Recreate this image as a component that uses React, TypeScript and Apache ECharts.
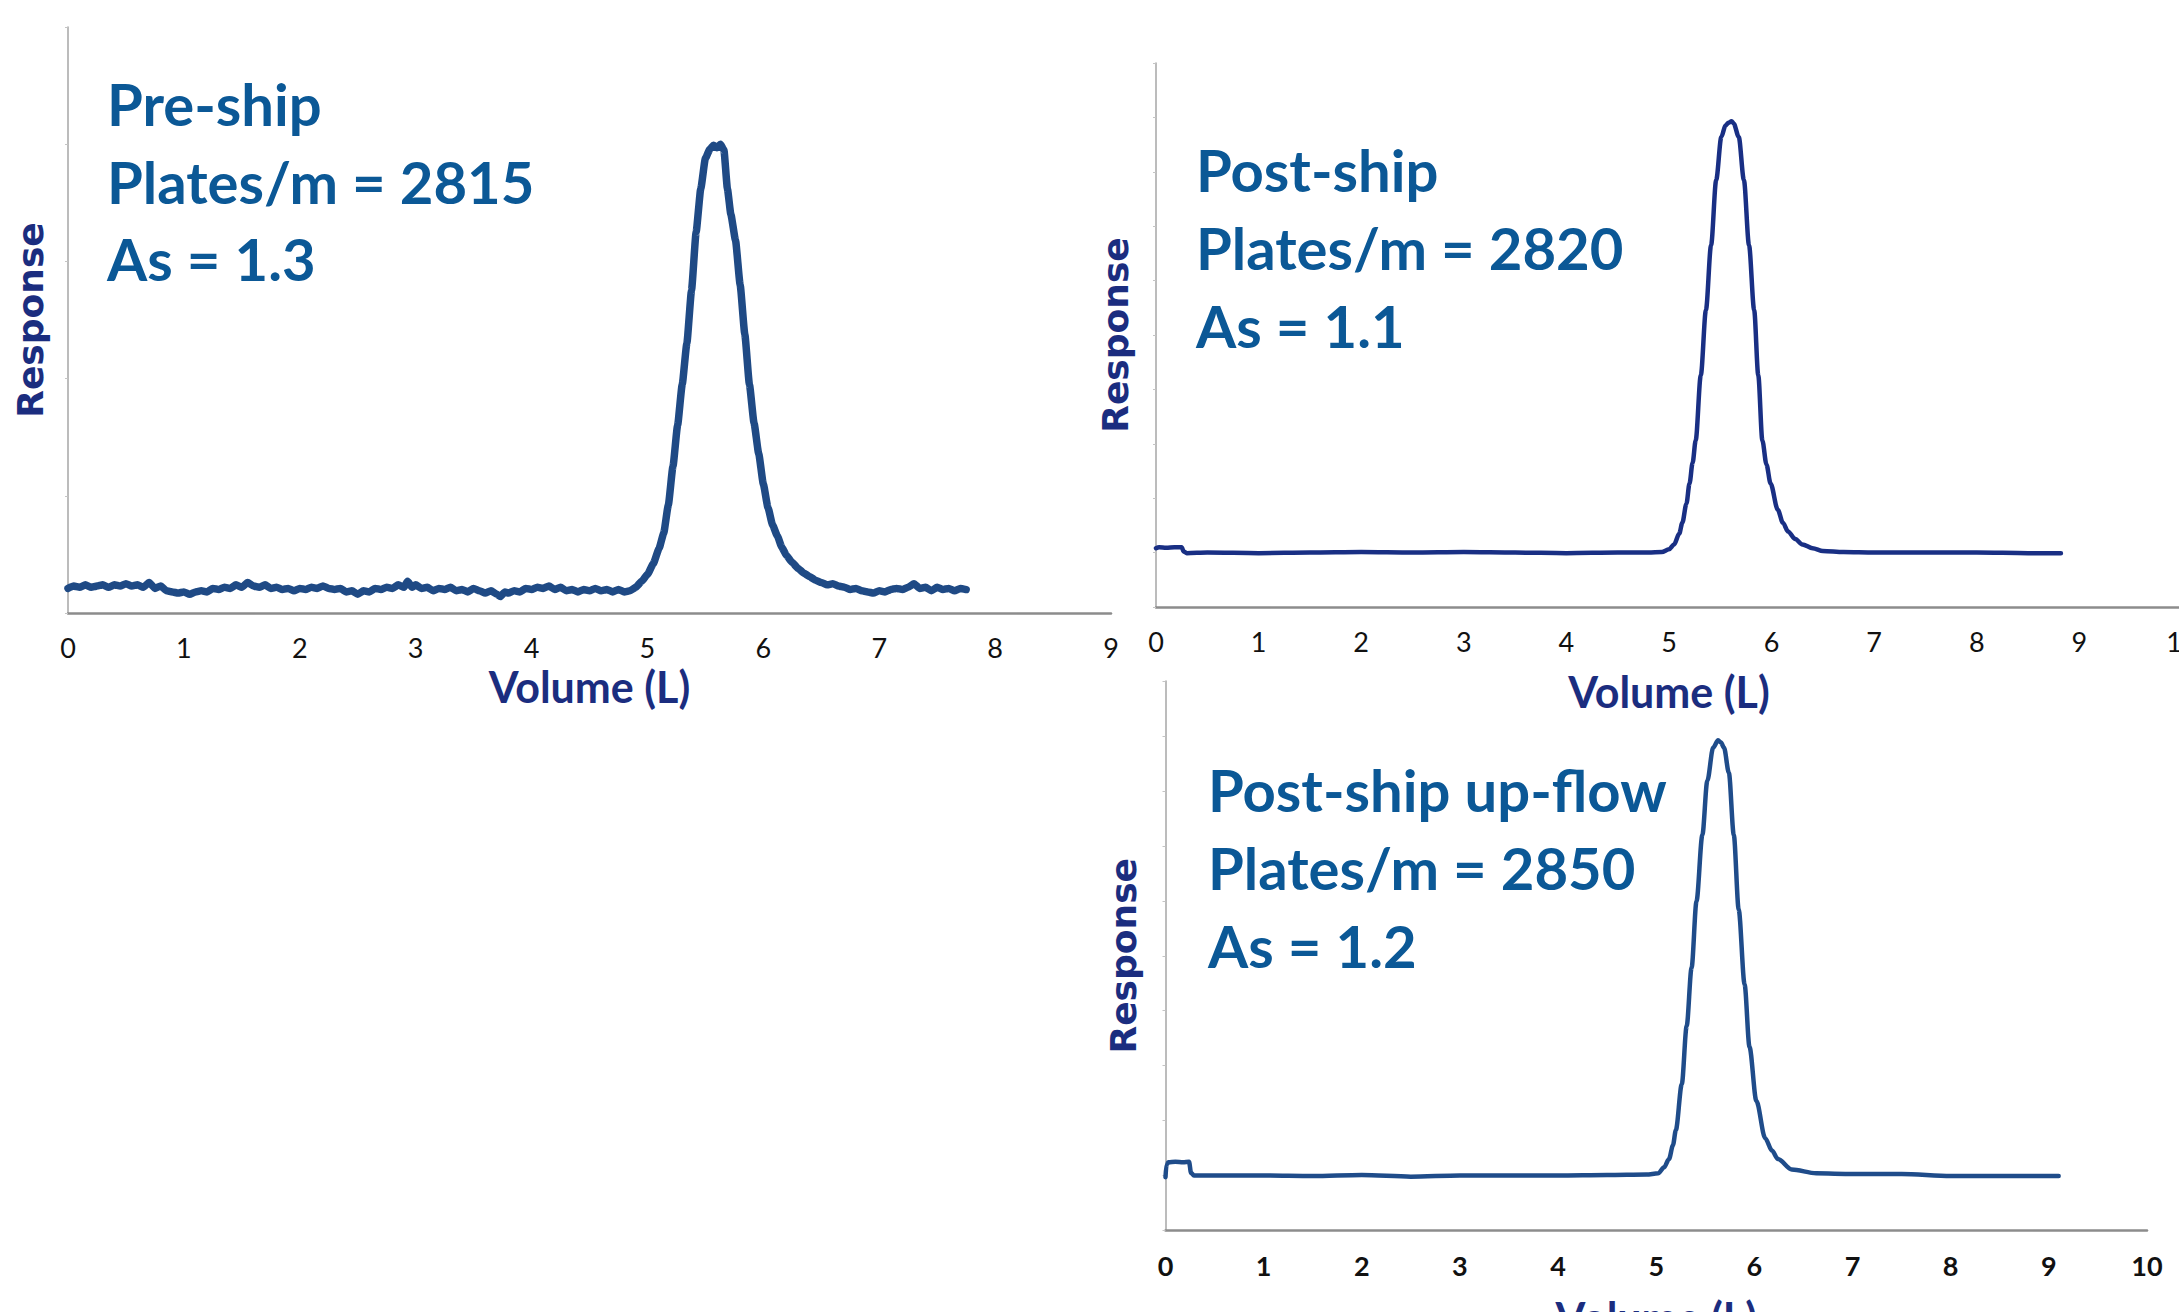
import React, { useEffect, useRef } from "react";
import * as echarts from "echarts";

// ---------- Data (Volume in L, Response in arbitrary units) ----------
const preShipCurve: number[][] = [
  [0.0, 0.21], [0.05, 0.23], [0.1, 0.22], [0.15, 0.24], [0.2, 0.22], [0.25, 0.23], [0.3, 0.24], [0.35, 0.22],
  [0.4, 0.24], [0.45, 0.23], [0.5, 0.25], [0.55, 0.23], [0.6, 0.24], [0.65, 0.22], [0.7, 0.26], [0.75, 0.21],
  [0.8, 0.23], [0.85, 0.19], [0.9, 0.18], [0.95, 0.17], [1.0, 0.18], [1.05, 0.16], [1.1, 0.18], [1.15, 0.19],
  [1.2, 0.18], [1.25, 0.21], [1.3, 0.2], [1.35, 0.22], [1.4, 0.21], [1.45, 0.24], [1.5, 0.22], [1.55, 0.26],
  [1.6, 0.23], [1.65, 0.22], [1.7, 0.24], [1.75, 0.21], [1.8, 0.22], [1.85, 0.2], [1.9, 0.21], [1.95, 0.19],
  [2.0, 0.21], [2.05, 0.2], [2.1, 0.22], [2.15, 0.21], [2.2, 0.23], [2.25, 0.21], [2.3, 0.2], [2.35, 0.21],
  [2.4, 0.18], [2.45, 0.19], [2.5, 0.16], [2.55, 0.19], [2.6, 0.18], [2.65, 0.21], [2.7, 0.2], [2.75, 0.22],
  [2.8, 0.21], [2.85, 0.24], [2.9, 0.22], [2.93, 0.27], [2.97, 0.22], [3.0, 0.24], [3.05, 0.21], [3.1, 0.22],
  [3.15, 0.19], [3.2, 0.21], [3.25, 0.2], [3.3, 0.22], [3.35, 0.19], [3.4, 0.2], [3.45, 0.18], [3.5, 0.21],
  [3.55, 0.19], [3.6, 0.17], [3.65, 0.19], [3.7, 0.16], [3.73, 0.14], [3.77, 0.18], [3.8, 0.17], [3.85, 0.19],
  [3.9, 0.18], [3.95, 0.21], [4.0, 0.2], [4.05, 0.22], [4.1, 0.21], [4.15, 0.23], [4.2, 0.2], [4.25, 0.22],
  [4.3, 0.19], [4.35, 0.2], [4.4, 0.18], [4.45, 0.2], [4.5, 0.19], [4.55, 0.21], [4.6, 0.19], [4.65, 0.2],
  [4.7, 0.18], [4.75, 0.2], [4.8, 0.18], [4.85, 0.19], [4.9, 0.22], [4.95, 0.27], [5.0, 0.33], [5.05, 0.42],
  [5.1, 0.55], [5.14, 0.68], [5.18, 0.92], [5.22, 1.25], [5.26, 1.6], [5.3, 1.95], [5.34, 2.3], [5.38, 2.75],
  [5.42, 3.25], [5.46, 3.62], [5.5, 3.88], [5.54, 3.96], [5.57, 3.99], [5.6, 3.97], [5.63, 4.0], [5.66, 3.95],
  [5.69, 3.62], [5.72, 3.4], [5.76, 3.18], [5.8, 2.8], [5.84, 2.38], [5.88, 1.95], [5.92, 1.62], [5.96, 1.36],
  [6.0, 1.1], [6.04, 0.9], [6.08, 0.75], [6.12, 0.66], [6.16, 0.56], [6.2, 0.49], [6.25, 0.43], [6.3, 0.38],
  [6.35, 0.34], [6.4, 0.31], [6.45, 0.28], [6.5, 0.26], [6.55, 0.24], [6.6, 0.25], [6.65, 0.23], [6.7, 0.22],
  [6.75, 0.2], [6.8, 0.21], [6.85, 0.19], [6.9, 0.18], [6.95, 0.17], [7.0, 0.19], [7.05, 0.18], [7.1, 0.2],
  [7.15, 0.21], [7.2, 0.2], [7.25, 0.22], [7.3, 0.25], [7.35, 0.21], [7.4, 0.22], [7.45, 0.19], [7.5, 0.22],
  [7.55, 0.2], [7.6, 0.21], [7.65, 0.19], [7.7, 0.21], [7.75, 0.2],
];

const postShipCurve: number[][] = [
  [0.0, 1.08], [0.03, 1.1], [0.1, 1.09], [0.18, 1.1], [0.25, 1.1], [0.27, 1.02], [0.3, 0.99],
  [0.5, 1.0], [1.0, 0.99], [1.5, 1.0], [2.0, 1.01], [2.5, 1.0], [3.0, 1.01], [3.5, 1.0], [4.0, 0.99],
  [4.5, 1.0], [4.8, 1.0], [4.93, 1.01], [5.0, 1.06], [5.05, 1.15], [5.1, 1.35], [5.13, 1.55], [5.17, 1.9],
  [5.2, 2.27], [5.23, 2.65], [5.26, 3.06], [5.31, 4.26], [5.36, 5.46], [5.41, 6.65], [5.46, 7.85], [5.51, 8.64],
  [5.55, 8.85], [5.58, 8.9], [5.61, 8.93], [5.63, 8.89], [5.68, 8.64], [5.73, 7.85], [5.78, 6.65], [5.83, 5.46],
  [5.87, 4.26], [5.91, 3.06], [5.95, 2.62], [5.99, 2.27], [6.06, 1.79], [6.11, 1.55], [6.16, 1.39], [6.23, 1.25],
  [6.3, 1.15], [6.4, 1.08], [6.5, 1.03], [6.7, 1.01], [7.0, 1.0], [7.5, 1.0], [8.0, 1.0], [8.5, 0.99], [8.82, 0.99],
];

const upFlowCurve: number[][] = [
  [0.0, 0.97], [0.01, 1.2], [0.03, 1.24], [0.1, 1.25], [0.18, 1.24], [0.24, 1.25], [0.26, 1.05], [0.29, 1.0],
  [0.5, 1.0], [1.0, 1.0], [1.5, 0.99], [2.0, 1.01], [2.5, 0.98], [3.0, 1.0], [3.5, 1.0], [4.0, 1.0],
  [4.5, 1.01], [4.9, 1.02], [5.02, 1.04], [5.08, 1.15], [5.13, 1.3], [5.17, 1.55], [5.2, 1.83], [5.26, 2.66],
  [5.31, 3.72], [5.36, 4.78], [5.41, 5.99], [5.47, 7.2], [5.52, 8.18], [5.58, 8.79], [5.63, 8.92], [5.66, 8.88],
  [5.69, 8.79], [5.74, 8.33], [5.79, 7.2], [5.84, 5.84], [5.9, 4.48], [5.95, 3.34], [6.02, 2.36], [6.11, 1.68],
  [6.18, 1.45], [6.24, 1.3], [6.38, 1.11], [6.63, 1.04], [7.0, 1.03], [7.5, 1.03], [8.0, 0.99], [8.5, 0.99], [9.1, 0.99],
];

const panelNames = ["Pre-ship", "Post-ship", "Post-ship up-flow"];
const platesPerMetre = [2815, 2820, 2850];
const asymmetry = ["1.3", "1.1", "1.2"];
const xAxisMax = [9, 10, 10];
const yAxisMax = [5, 10, 10];
const xAxisTitle = "Volume (L)";
const yAxisTitle = "Response";

// ---------- Layout / style (not data) ----------
const grids = [
  { left: 68, top: 27, width: 1043, height: 586 },
  { left: 1156, top: 63, width: 1026, height: 544 },
  { left: 1165.5, top: 681, width: 981.5, height: 549.5 },
];
const lineColors = ["#1f4a85", "#192f84", "#1f4c8a"];
const lineWidths = [7.5, 4.5, 4.5];
const textPos = [
  { x: 107, y: [103, 181, 258] },
  { x: 1196, y: [169, 247, 325] },
  { x: 1208, y: [789, 867, 945] },
];
const xNameGap = [52, 63, 65];
const yNameGap = [20, 23, 24];
const labelBold = [false, false, true];

const ANNOT_COLOR = "#0b5896";
const TITLE_COLOR = "#1b2d7f";

export default function App() {
  const ref = useRef<HTMLDivElement>(null);

  useEffect(() => {
    if (!ref.current) return;
    const chart = echarts.init(ref.current, undefined, { renderer: "svg" });
    const curves = [preShipCurve, postShipCurve, upFlowCurve];

    const graphic: any[] = [];
    textPos.forEach((p, i) => {
      const lines = [panelNames[i], `Plates/m = ${platesPerMetre[i]}`, `As = ${asymmetry[i]}`];
      lines.forEach((t, j) => {
        graphic.push({
          type: "text",
          x: p.x,
          y: p.y[j],
          style: {
            text: t,
            fill: ANNOT_COLOR,
            font: "bold 58px Lato, 'Noto Sans', sans-serif",
            textAlign: "left",
            textVerticalAlign: "middle",
            align: "left",
            verticalAlign: "middle",
          },
        });
      });
    });

    const option: any = {
      animation: false,
      backgroundColor: "#ffffff",
      grid: grids.map((g) => ({ ...g, containLabel: false, outerBoundsMode: "none" })),
      xAxis: grids.map((_, i) => ({
        gridIndex: i,
        type: "value",
        min: 0,
        max: xAxisMax[i],
        interval: 1,
        axisLine: { show: true, onZero: false, lineStyle: { color: "#8c8c8c", width: 2.5 } },
        axisTick: { show: false },
        splitLine: { show: false },
        axisLabel: {
          margin: 21,
          fontFamily: "Lato",
          fontSize: 27,
          fontWeight: labelBold[i] ? "bold" : "normal",
          color: "#111111",
        },
        name: xAxisTitle,
        nameLocation: "middle",
        nameGap: xNameGap[i],
        nameTextStyle: { fontFamily: "Lato", fontWeight: "bold", fontSize: 43, color: TITLE_COLOR },
      })),
      yAxis: grids.map((_, i) => ({
        gridIndex: i,
        type: "value",
        min: 0,
        max: yAxisMax[i],
        interval: 1,
        axisLine: { show: true, onZero: false, lineStyle: { color: "#a6a6a6", width: 1.5 } },
        axisTick: { show: true, length: 3, lineStyle: { color: "#c4c4c4", width: 1 } },
        axisLabel: { show: false },
        splitLine: { show: false },
        name: yAxisTitle,
        nameLocation: "middle",
        nameRotate: 90,
        nameGap: yNameGap[i],
        nameTextStyle: { fontFamily: "DejaVu Sans", fontWeight: "bold", fontSize: 36, color: TITLE_COLOR },
      })),
      series: curves.map((c, i) => ({
        type: "line",
        xAxisIndex: i,
        yAxisIndex: i,
        data: c,
        symbol: "none",
        showSymbol: false,
        smooth: i === 0 ? 0.15 : 0.3,
        smoothMonotone: "x",
        lineStyle: { color: lineColors[i], width: lineWidths[i], join: "round", cap: "round" },
        itemStyle: { color: lineColors[i] },
        z: 3,
      })),
      graphic,
    };

    chart.setOption(option);
    return () => chart.dispose();
  }, []);

  return (
    <div
      style={{
        position: "fixed",
        left: 0,
        top: 0,
        width: 2179,
        height: 1312,
        overflow: "hidden",
        background: "#ffffff",
      }}
    >
      <div ref={ref} style={{ width: 2240, height: 1312 }} />
    </div>
  );
}
